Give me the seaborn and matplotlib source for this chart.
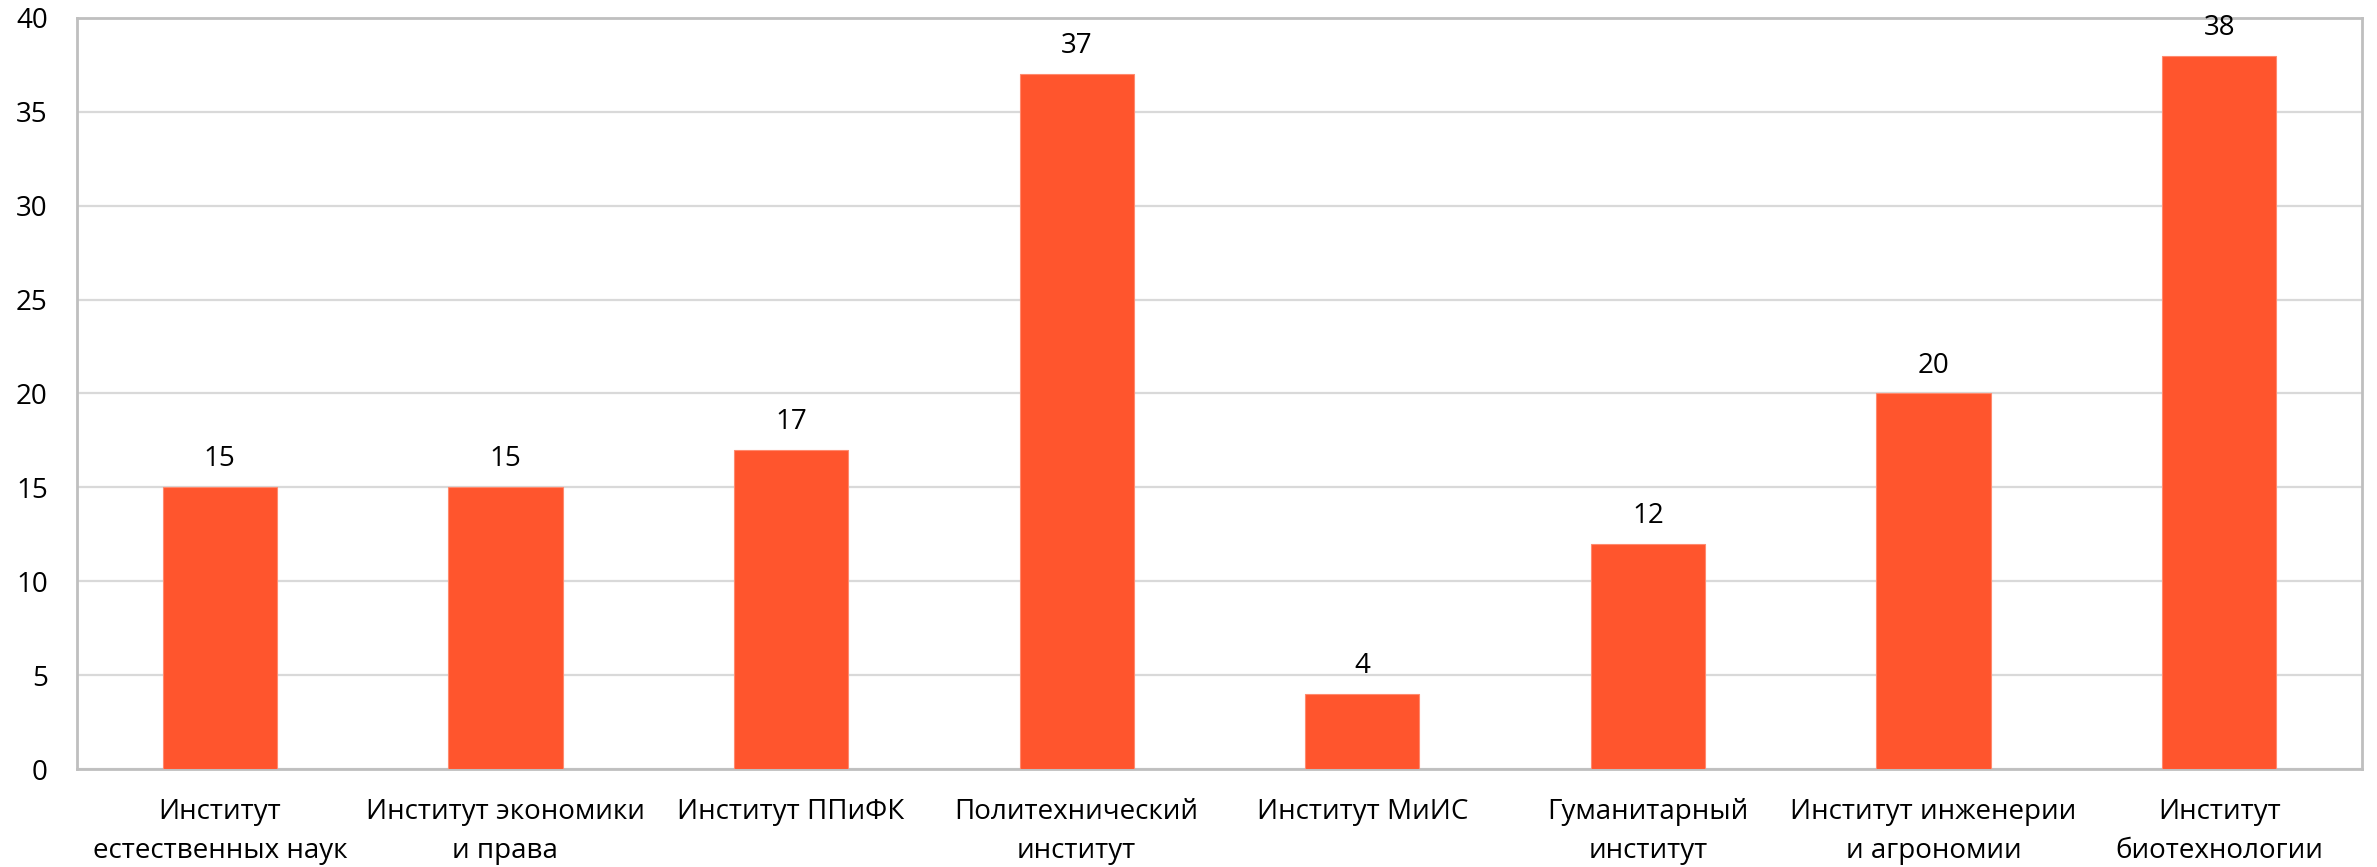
import matplotlib
matplotlib.use("Agg")
import matplotlib.pyplot as plt
import seaborn as sns
import pandas as pd

categories = [
    "Институт\nестественных наук",
    "Институт экономики\nи права",
    "Институт ППиФК",
    "Политехнический\nинститут",
    "Институт МиИС",
    "Гуманитарный\nинститут",
    "Институт инженерии\nи агрономии",
    "Институт\nбиотехнологии",
]
values = [15, 15, 17, 37, 4, 12, 20, 38]
y_ticks = [0, 5, 10, 15, 20, 25, 30, 35, 40]

sns.set_theme(style="white")
plt.rcParams["font.family"] = ["Open Sans", "DejaVu Sans"]

df = pd.DataFrame({"cat": categories, "val": values})

fig = plt.figure(figsize=(23.77, 8.67), dpi=100)
ax = fig.add_axes([77 / 2377, 1 - 769 / 867, (2362 - 77) / 2377, (769 - 18) / 867])

sns.barplot(data=df, x="cat", y="val", color="#FF552D", width=0.4, ax=ax,
            saturation=1, edgecolor="#FF8A6E", linewidth=0.8, zorder=3)

ax.set_ylim(0, 40)
ax.set_xlim(-0.5, len(categories) - 0.5)
ax.set_yticks(y_ticks)
ax.yaxis.grid(True, color="#D9D9D9", linewidth=1.6, zorder=0)
ax.set_axisbelow(True)
for s in ax.spines.values():
    s.set_visible(True)
    s.set_color("#BFBFBF")
    s.set_linewidth(2)

ax.set_xlabel("")
ax.set_ylabel("")
ax.tick_params(axis="y", labelsize=20, pad=21, length=0, colors="black")
ax.tick_params(axis="x", labelsize=20, pad=21, length=0, colors="black")
for lbl in ax.get_xticklabels():
    lbl.set_linespacing(1.5)

for i, v in enumerate(values):
    ax.annotate(str(v), xy=(i, v), xytext=(0, 10), textcoords="offset points",
                ha="center", va="bottom", fontsize=20, color="black")

fig.savefig("out.png", dpi=100, facecolor="white")
